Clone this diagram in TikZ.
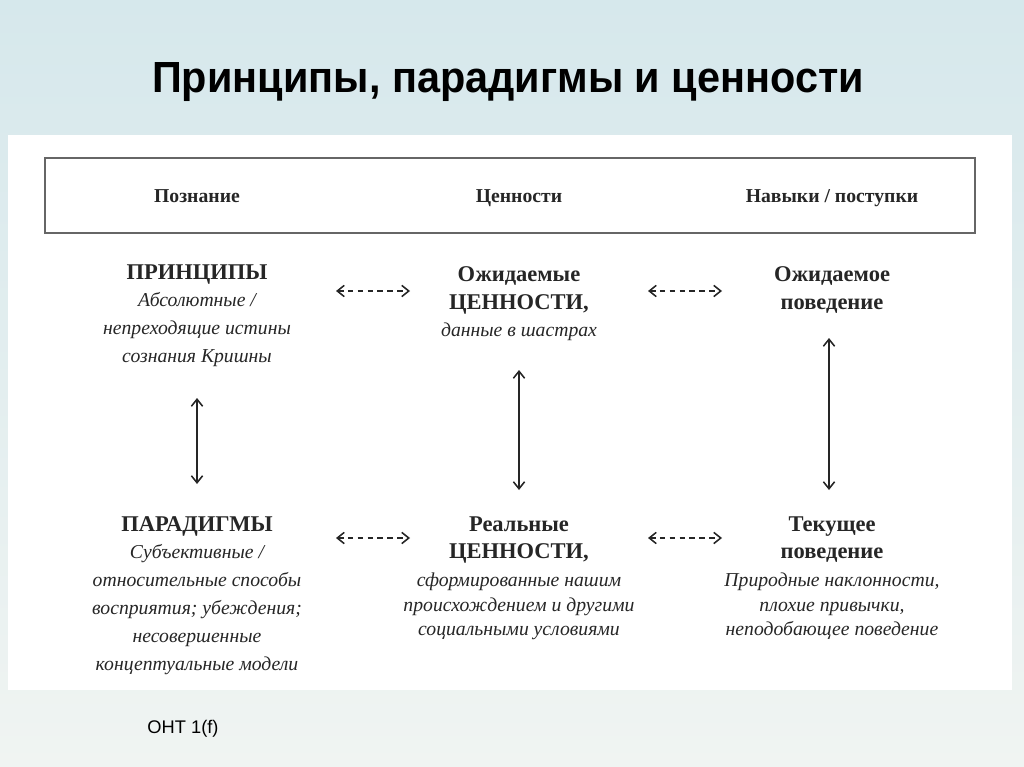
\documentclass[tikz,border=0pt]{standalone}
\usepackage{fontspec}
\setmainfont{Liberation Serif}
\newfontfamily\titlefont{Liberation Sans}
\usetikzlibrary{arrows.meta}
\definecolor{bgtop}{RGB}{214,232,236}
\definecolor{bgbot}{RGB}{240,244,242}
\newcommand{\itl}{\mdseries\itshape\fontsize{14}{19.8}\selectfont}
\newcommand{\bnm}{\upshape\bfseries\fontsize{16}{19.8}\selectfont}
\tikzset{
  head/.style={font=\bfseries\fontsize{14}{16}\selectfont, text=black!85, anchor=base},
  block/.style={align=center, anchor=north, inner sep=0pt, text=black!85, font=\itl},
  link/.style={{Straight Barb[length=5pt,width=8pt]}-{Straight Barb[length=5pt,width=8pt]}, line width=1.1pt, black!85},
  dlink/.style={link, dashed, dash pattern=on 4pt off 3pt}
}
\begin{document}
\begin{tikzpicture}[x=0.025cm, y=-0.025cm]
  % background
  \shade[top color=bgtop, bottom color=bgbot] (0,0) rectangle (1024,767);
  \fill[white] (8,135) rectangle (1012,690);
  \useasboundingbox (0,0) rectangle (1024,767);
  \node (title) at (508,82) [font=\titlefont\bfseries\fontsize{31}{36}\selectfont, xscale=0.95] {Принципы, парадигмы и ценности};
  % header
  \draw[black!60, line width=0.8pt] (45,158) rectangle (975,233);
  \node (hknow) at (197,203) [head] {Познание};
  \node (hval) at (519,203) [head] {Ценности};
  \node (hskill) at (832,203) [head] {Навыки / поступки};
  % upper row
  \node (princ) at (197,264) [block] {{\bnm ПРИНЦИПЫ}\\ Абсолютные /\\ непреходящие истины\\ сознания Кришны};
  \node (expval) at (519,266) [block] {{\bnm Ожидаемые}\\ {\bnm ЦЕННОСТИ,}\\ данные в шастрах};
  \node (expbeh) at (832,266) [block] {{\bnm Ожидаемое}\\ {\bnm поведение}};
  % lower row
  \node (parad) at (197,516) [block] {{\bnm ПАРАДИГМЫ}\\ Субъективные /\\ относительные способы\\ восприятия; убеждения;\\ несовершенные\\ концептуальные модели};
  \node (realval) at (519,516) [block] {{\bnm Реальные}\\ {\bnm ЦЕННОСТИ,}\\ сформированные нашим\\[-2.5pt] происхождением и другими\\[-2.5pt] социальными условиями};
  \node (curbeh) at (832,516) [block] {{\bnm Текущее}\\ {\bnm поведение}\\ Природные наклонности,\\[-2.5pt] плохие привычки,\\[-2.5pt] неподобающее поведение};
  % connectors
  \coordinate (a1) at (197,398); \coordinate (a2) at (197,484);
  \coordinate (b1) at (519,370); \coordinate (b2) at (519,490);
  \coordinate (c1) at (829,338); \coordinate (c2) at (829,490);
  \draw[link] (a1) -- (a2);
  \draw[link] (b1) -- (b2);
  \draw[link] (c1) -- (c2);
  \coordinate (d1) at (336,291); \coordinate (d2) at (410,291);
  \coordinate (e1) at (648,291); \coordinate (e2) at (722,291);
  \coordinate (f1) at (336,538); \coordinate (f2) at (410,538);
  \coordinate (g1) at (648,538); \coordinate (g2) at (722,538);
  \draw[dlink] (d1) -- (d2);
  \draw[dlink] (e1) -- (e2);
  \draw[dlink] (f1) -- (f2);
  \draw[dlink] (g1) -- (g2);
  \node (code) at (183,729) [font=\titlefont\fontsize{13}{15}\selectfont] {ОНТ 1(f)};
\end{tikzpicture}
\end{document}
